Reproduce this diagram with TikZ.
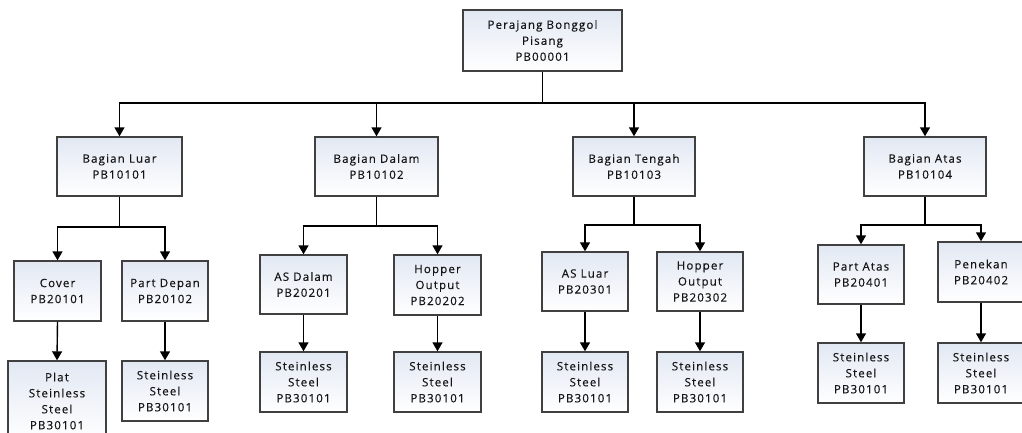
\documentclass[tikz,border=0pt]{standalone}
\usepackage{fontspec}
\setmainfont{Open Sans}[LetterSpace=10, FakeBold=0.4]
\usetikzlibrary{arrows.meta,shadows}
\definecolor{boxedge}{HTML}{404040}
\definecolor{boxtop}{HTML}{E2E8F3}
\definecolor{txt}{HTML}{151515}
\tikzset{
  part/.style={draw=boxedge, line width=1.4pt, rectangle, inner sep=0pt,
    top color=boxtop, bottom color=white, align=center, text=txt,
    font=\fontsize{11.5}{16}\selectfont,
    drop shadow={shadow xshift=1pt, shadow yshift=-1pt, fill=black!45, opacity=0.6}},
  wh/.style 2 args={minimum width=#1pt, minimum height=#2pt},
  link/.style={line width=1.4pt, draw=black},
  arr/.style={link, -{Triangle[width=10pt,length=9pt]}}
}
\begin{document}
\begin{tikzpicture}[x=1pt,y=-1pt]
\useasboundingbox (0,0) rectangle (1022,432);
\clip (0,0) rectangle (1022,432);
% root
\node[part, wh={159}{61}] (root) at (542.5,40.5) {Perajang Bonggol\\Pisang\\PB00001};
% first level
\node[part, wh={125}{59}] (luar)   at (119.5,166.5) {Bagian Luar\\PB10101};
\node[part, wh={123}{59}] (dalam)  at (376.5,166.5) {Bagian Dalam\\PB10102};
\node[part, wh={122}{59}] (tengah) at (634,166.5)   {Bagian Tengah\\PB10103};
\node[part, wh={122}{59}] (atas)   at (925,166.5)   {Bagian Atas\\PB10104};
% second level
\node[part, wh={87}{60}] (cover)    at (57.5,291)  {Cover\\PB20101};
\node[part, wh={86}{60}] (depan)    at (165,291)   {Part Depan\\PB20102};
\node[part, wh={87}{59}] (asdalam)  at (303.5,284.5) {AS Dalam\\PB20201};
\node[part, wh={87}{60}] (hopperA)  at (437.5,285) {Hopper\\Output\\PB20202};
\node[part, wh={86}{59}] (asluar)   at (585,281.5) {AS Luar\\PB20301};
\node[part, wh={86}{59}] (hopperB)  at (700,281.5) {Hopper\\Output\\PB20302};
\node[part, wh={86}{59}] (partatas) at (861,274.5) {Part Atas\\PB20401};
\node[part, wh={86}{60}] (penekan)  at (981,272)   {Penekan\\PB20402};
% third level
\node[part, wh={98}{80}] (plat)  at (57,401)   {Plat\\Steinless\\Steel\\PB30101};
\node[part, wh={86}{60}] (ssA)   at (165,391)  {Steinless\\Steel\\PB30101};
\node[part, wh={87}{60}] (ssB)   at (303.5,382) {Steinless\\Steel\\PB30101};
\node[part, wh={87}{60}] (ssC)   at (437.5,382) {Steinless\\Steel\\PB30101};
\node[part, wh={86}{60}] (ssD)   at (585,382)  {Steinless\\Steel\\PB30101};
\node[part, wh={86}{60}] (ssE)   at (700,382)  {Steinless\\Steel\\PB30101};
\node[part, wh={86}{60}] (ssF)   at (861,373)  {Steinless\\Steel\\PB30101};
\node[part, wh={86}{60}] (ssG)   at (981,373)  {Steinless\\Steel\\PB30101};
% junction points of the branching lines
\coordinate (jroot)   at (root.south |- 0,103);
\coordinate (jluar)   at (luar.south |- 0,227);
\coordinate (jdalam)  at (dalam.south |- 0,226);
\coordinate (jtengah) at (tengah.south |- 0,225);
\coordinate (jatas)   at (atas.south |- 0,225);
% root to first level
\draw[link] (root.south) -- (jroot);
\foreach \n in {luar,dalam,tengah,atas} \draw[arr] (jroot) -| (\n.north);
% first level to second level
\draw[link] (luar.south) -- (jluar);
\draw[arr] (jluar) -| (cover.north);
\draw[arr] (jluar) -| (depan.north);
\draw[link] (dalam.south) -- (jdalam);
\draw[arr] (jdalam) -| (asdalam.north);
\draw[arr] (jdalam) -| (hopperA.north);
\draw[link] (tengah.south) -- (jtengah);
\draw[arr] (jtengah) -| (asluar.north);
\draw[arr] (jtengah) -| (hopperB.north);
\draw[link] (atas.south) -- (jatas);
\draw[arr] (jatas) -| (partatas.north);
\draw[arr] (jatas) -| (penekan.north);
% second level to third level
\draw[arr] (cover.south) -- (plat.north);
\draw[arr] (depan.south) -- (ssA.north);
\draw[arr] (asdalam.south) -- (ssB.north);
\draw[arr] (hopperA.south) -- (ssC.north);
\draw[arr] (asluar.south) -- (ssD.north);
\draw[arr] (hopperB.south) -- (ssE.north);
\draw[arr] (partatas.south) -- (ssF.north);
\draw[arr] (penekan.south) -- (ssG.north);
\end{tikzpicture}
\end{document}
